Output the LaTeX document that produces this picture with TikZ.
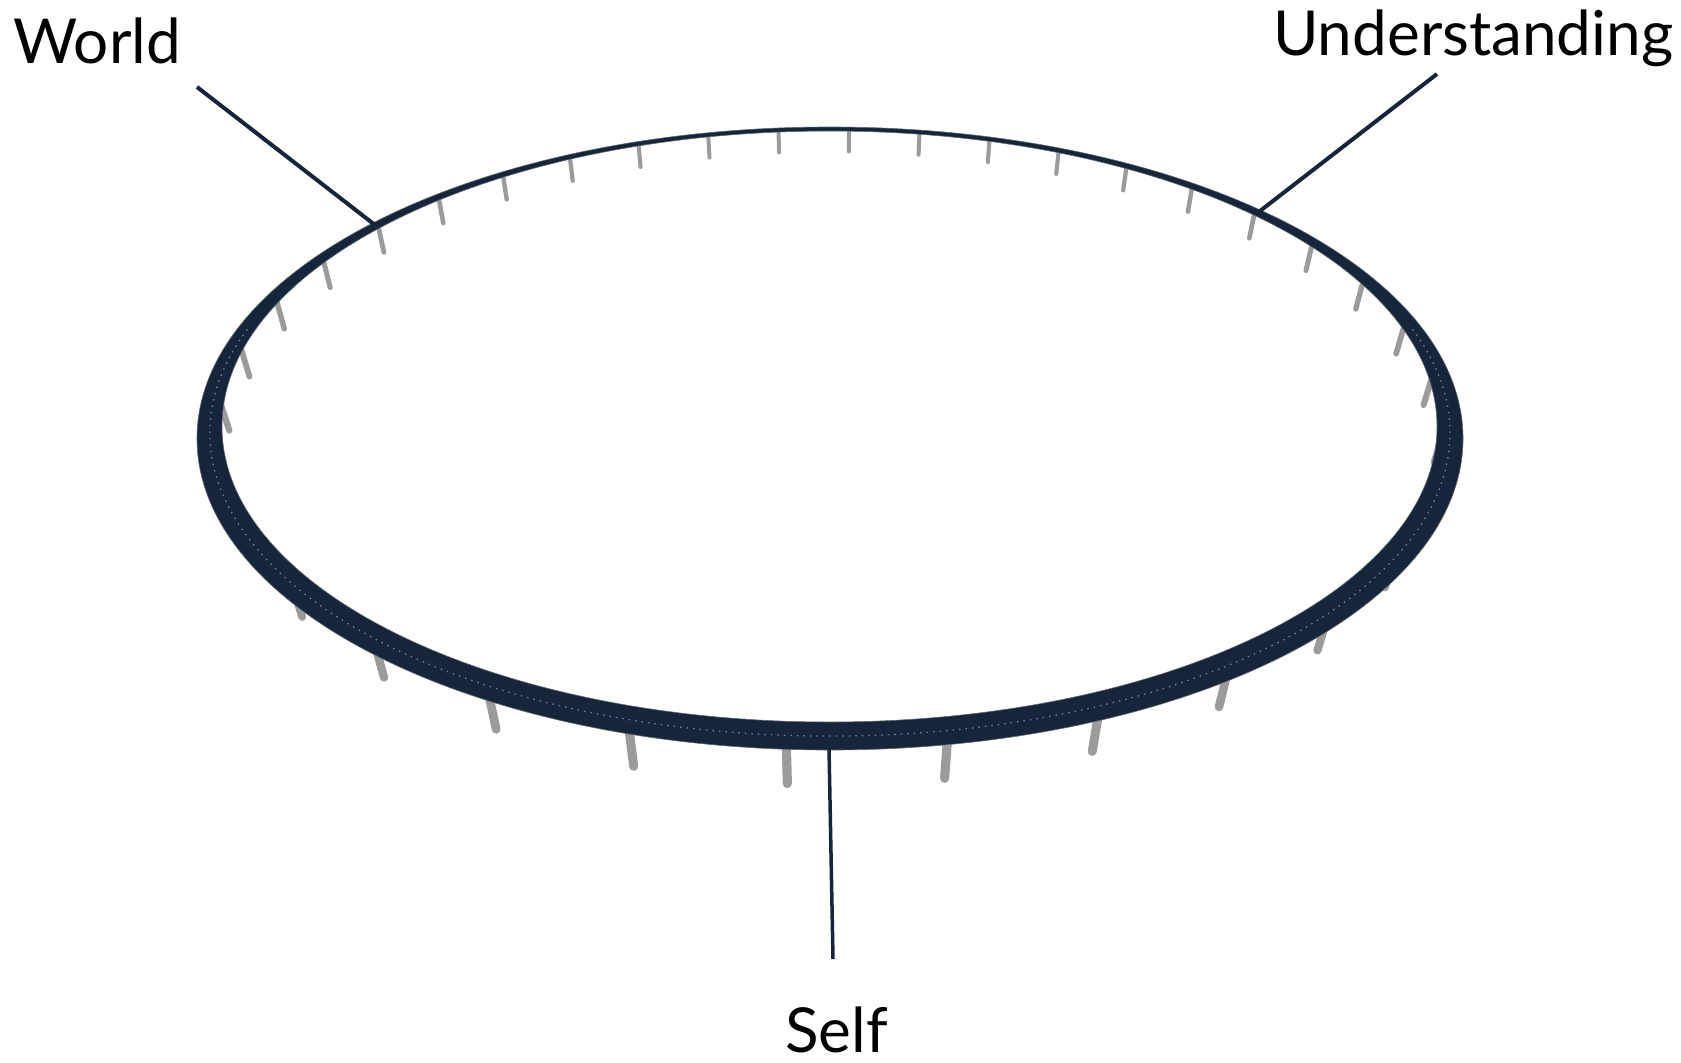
\documentclass[tikz,border=0pt]{standalone}
\usepackage{fontspec}
\setmainfont{Lato}
\definecolor{ringnavy}{HTML}{17253A}
\definecolor{postgray}{HTML}{9B9B9B}
\tikzset{
  lbl/.style={inner sep=0pt, font=\fontsize{62bp}{72bp}\selectfont, text=black},
  leader/.style={draw=ringnavy, line width=4bp},
  post/.style={draw=postgray, line cap=round},
  ringband/.style={fill=ringnavy, draw=ringnavy!70!white, line width=0.6bp, even odd rule},
  dotline/.style={draw=white, opacity=0.4, line width=1.3bp, dash pattern=on 1.5bp off 5bp}
}
\begin{document}
\begin{tikzpicture}[x=1bp, y=-1bp]
\useasboundingbox (0,0) rectangle (1681,1062);
% posts (perspective)
\foreach \n in {0,...,35} {
  \pgfmathsetmacro\al{87.3-10*\n}
  \pgfmathsetmacro\Z{2.52+sin(\al)}
  \pgfmathsetmacro\ux{830+1422.5*cos(\al)/\Z}
  \pgfmathsetmacro\vy{-329.8+1618.5/\Z}
  \pgfmathsetmacro\len{75/\Z}
  \pgfmathsetmacro\dx{(830-\ux)/100}
  \pgfmathsetmacro\dy{(2300-\vy)/100}
  \pgfmathsetmacro\dd{sqrt(\dx*\dx+\dy*\dy)}
  \pgfmathsetmacro\bx{\ux+\len*\dx/\dd}
  \pgfmathsetmacro\by{\vy+\len*\dy/\dd}
  \pgfmathsetmacro\w{14/\Z}
  \draw[post, line width=\w bp] (\ux,\vy) -- (\bx,\by);
}
% ring band
\path[ringband] (830,438.5) ellipse [x radius=633bp, y radius=311.5bp]
                (829.5,426.5) ellipse [x radius=607.5bp, y radius=295.5bp];
\draw[dotline] ([shift={(160:620bp and 303bp)}]830,433) arc[start angle=160, end angle=380, x radius=620bp, y radius=303bp];
% labels
\node[lbl, anchor=base west] (world) at (13,63) {World};
\node[lbl, anchor=base west] (und) at (1273,55) {Understanding};
\node[lbl, anchor=base west] (self) at (785,1052) {Self};
\coordinate (wEnd) at (197,87);
\coordinate (wRing) at (375,225);
\coordinate (uEnd) at (1437,74);
\coordinate (uRing) at (1260,211);
\coordinate (sEnd) at (833,959);
\coordinate (sRing) at (829,748);
\draw[leader] (wEnd) -- (wRing);
\draw[leader] (uEnd) -- (uRing);
\draw[leader, line width=3.5bp] (sEnd) -- (sRing);
\end{tikzpicture}
\end{document}
